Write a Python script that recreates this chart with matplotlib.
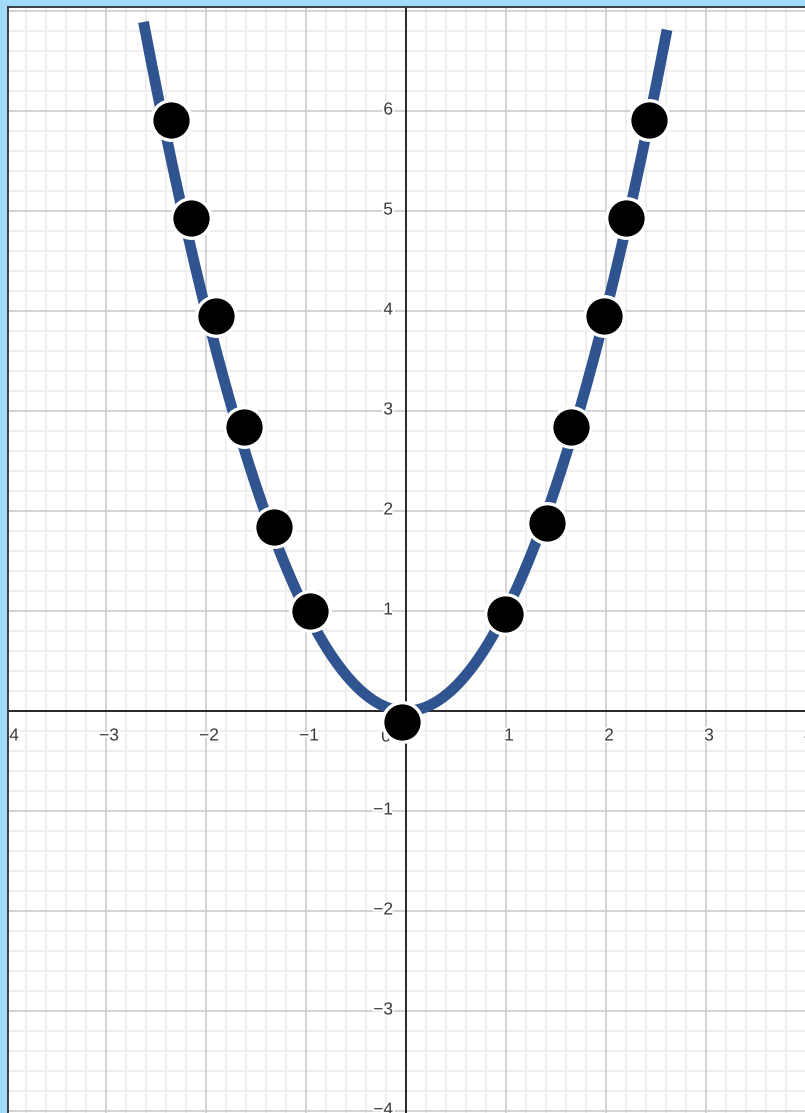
import numpy as np
import matplotlib
matplotlib.use("Agg")
import matplotlib.pyplot as plt
import matplotlib.patheffects as pe

# ---- data ----
point_x = [-2.35, -2.15, -1.90, -1.62, -1.32, -0.96, -0.04, 0.99, 1.41, 1.65, 1.98, 2.20, 2.43]
point_y = [5.91, 4.93, 3.95, 2.84, 1.84, 1.00, -0.11, 0.97, 1.88, 2.84, 3.95, 4.93, 5.91]
curve_coef = 1.0          # graphed function y = a * x^2
curve_x_range = (-2.625, 2.61)
x_ticks = [-4, -3, -2, -1, 0, 1, 2, 3, 4]
y_ticks = [-4, -3, -2, -1, 1, 2, 3, 4, 5, 6]

W, H = 805, 1113
fig = plt.figure(figsize=(W / 100, H / 100), dpi=100)
fig.patch.set_facecolor("#a3dcfb")

left_px, top_px = 8, 7
ax = fig.add_axes([left_px / W, 0, (W - left_px) / W, (H - top_px) / H])
ax.set_facecolor("white")

# pixel mapping: origin at (406, 711), 100 px per unit
x0, y0, s = 406, 711, 100
ax.set_xlim((left_px - x0) / s, (W - x0) / s)
ax.set_ylim((y0 - H) / s, (y0 - top_px) / s)

for sp in ax.spines.values():
    sp.set_visible(False)
for side in ("left", "top"):
    ax.spines[side].set_visible(True)
    ax.spines[side].set_color("#333333")
    ax.spines[side].set_linewidth(1.3)
ax.set_xticks([])
ax.set_yticks([])

# grid
minor = np.arange(-5, 8.001, 0.2)
for v in minor:
    if abs(v - round(v)) < 1e-6:
        continue
    ax.axvline(v, color="#efefef", lw=1.4, zorder=0)
    ax.axhline(v, color="#efefef", lw=1.4, zorder=0)
for v in range(-5, 9):
    if v == 0:
        continue
    ax.axvline(v, color="#cccccc", lw=1.2, zorder=0.5)
    ax.axhline(v, color="#cccccc", lw=1.2, zorder=0.5)
ax.axhline(0, color="black", lw=1.2, zorder=1)
ax.axvline(0, color="black", lw=1.2, zorder=1)

halo = [pe.withStroke(linewidth=3, foreground="white")]
lab_kw = dict(fontsize=12.5, color="#3a3a3a", family=["Liberation Sans", "DejaVu Sans"],
              path_effects=halo, zorder=2, clip_on=True)
for t in x_ticks:
    if t == 0:
        ax.text(-0.2, -0.26, "0", ha="center", va="center", **lab_kw)
        continue
    lbl = str(t).replace("-", "\u2212")
    ax.text(t + 0.03, -0.25, lbl, ha="center", va="center", **lab_kw)
for t in y_ticks:
    lbl = str(t).replace("-", "\u2212")
    ax.text(-0.13, t + 0.01, lbl, ha="right", va="center", **lab_kw)

# curve
xc = np.linspace(curve_x_range[0], curve_x_range[1], 600)
ax.plot(xc, curve_coef * xc ** 2, color="#2f548f", lw=7.8,
        solid_capstyle="butt", zorder=3)

# points
ax.plot(point_x, point_y, "o", ms=28.5, mfc="black", mec="white",
        mew=2.4, zorder=4, clip_on=False)

fig.savefig("out.png", dpi=100, facecolor=fig.get_facecolor())
